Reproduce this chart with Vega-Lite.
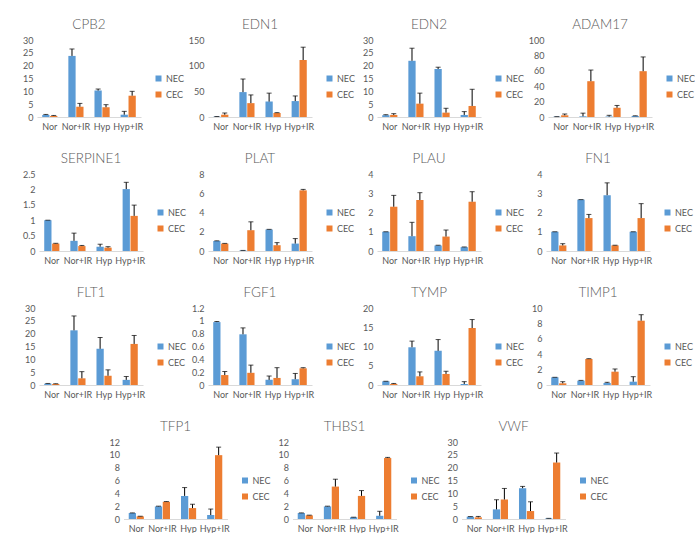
{
"$schema": "https://vega.github.io/schema/vega-lite/v6.json",
"background": "white",
"padding": {"left": 19, "top": 17, "right": 0, "bottom": 0},
"datasets": {"d": [
{"g":"CPB2","c":"Nor","s":"NEC","v":0.8,"hi":1.0},{"g":"CPB2","c":"Nor+IR","s":"NEC","v":23.8,"hi":26.5},{"g":"CPB2","c":"Hyp","s":"NEC","v":10.3,"hi":10.9},{"g":"CPB2","c":"Hyp+IR","s":"NEC","v":0.9,"hi":2.2},
{"g":"CPB2","c":"Nor","s":"CEC","v":0.4,"hi":0.6},{"g":"CPB2","c":"Nor+IR","s":"CEC","v":4.0,"hi":5.3},{"g":"CPB2","c":"Hyp","s":"CEC","v":3.8,"hi":4.8},{"g":"CPB2","c":"Hyp+IR","s":"CEC","v":8.3,"hi":10.0},
{"g":"EDN1","c":"Nor","s":"NEC","v":0.6,"hi":1.0},{"g":"EDN1","c":"Nor+IR","s":"NEC","v":48.5,"hi":74},{"g":"EDN1","c":"Hyp","s":"NEC","v":30,"hi":46.5},{"g":"EDN1","c":"Hyp+IR","s":"NEC","v":31,"hi":41},
{"g":"EDN1","c":"Nor","s":"CEC","v":4.5,"hi":7.8},{"g":"EDN1","c":"Nor+IR","s":"CEC","v":27,"hi":43},{"g":"EDN1","c":"Hyp","s":"CEC","v":7.8,"hi":8.5},{"g":"EDN1","c":"Hyp+IR","s":"CEC","v":111,"hi":136},
{"g":"EDN2","c":"Nor","s":"NEC","v":0.7,"hi":0.9},{"g":"EDN2","c":"Nor+IR","s":"NEC","v":21.9,"hi":26.8},{"g":"EDN2","c":"Hyp","s":"NEC","v":18.7,"hi":19.4},{"g":"EDN2","c":"Hyp+IR","s":"NEC","v":0.8,"hi":2.1},
{"g":"EDN2","c":"Nor","s":"CEC","v":0.8,"hi":1.3},{"g":"EDN2","c":"Nor+IR","s":"CEC","v":5.2,"hi":9.3},{"g":"EDN2","c":"Hyp","s":"CEC","v":1.7,"hi":3.4},{"g":"EDN2","c":"Hyp+IR","s":"CEC","v":4.3,"hi":10.8},
{"g":"ADAM17","c":"Nor","s":"NEC","v":0.4,"hi":0.5},{"g":"ADAM17","c":"Nor+IR","s":"NEC","v":0.9,"hi":5},{"g":"ADAM17","c":"Hyp","s":"NEC","v":0.5,"hi":2.2},{"g":"ADAM17","c":"Hyp+IR","s":"NEC","v":1.3,"hi":1.6},
{"g":"ADAM17","c":"Nor","s":"CEC","v":2.2,"hi":3.9},{"g":"ADAM17","c":"Nor+IR","s":"CEC","v":46.5,"hi":61},{"g":"ADAM17","c":"Hyp","s":"CEC","v":12,"hi":15},{"g":"ADAM17","c":"Hyp+IR","s":"CEC","v":59.5,"hi":78},
{"g":"SERPINE1","c":"Nor","s":"NEC","v":1.0,"hi":1.0},{"g":"SERPINE1","c":"Nor+IR","s":"NEC","v":0.33,"hi":0.58},{"g":"SERPINE1","c":"Hyp","s":"NEC","v":0.14,"hi":0.22},{"g":"SERPINE1","c":"Hyp+IR","s":"NEC","v":2.01,"hi":2.23},
{"g":"SERPINE1","c":"Nor","s":"CEC","v":0.24,"hi":0.25},{"g":"SERPINE1","c":"Nor+IR","s":"CEC","v":0.16,"hi":0.18},{"g":"SERPINE1","c":"Hyp","s":"CEC","v":0.11,"hi":0.14},{"g":"SERPINE1","c":"Hyp+IR","s":"CEC","v":1.14,"hi":1.49},
{"g":"PLAT","c":"Nor","s":"NEC","v":1.04,"hi":1.06},{"g":"PLAT","c":"Nor+IR","s":"NEC","v":0.05,"hi":0.06},{"g":"PLAT","c":"Hyp","s":"NEC","v":2.23,"hi":2.25},{"g":"PLAT","c":"Hyp+IR","s":"NEC","v":0.77,"hi":1.29},
{"g":"PLAT","c":"Nor","s":"CEC","v":0.77,"hi":0.79},{"g":"PLAT","c":"Nor+IR","s":"CEC","v":2.16,"hi":3.03},{"g":"PLAT","c":"Hyp","s":"CEC","v":0.6,"hi":0.87},{"g":"PLAT","c":"Hyp+IR","s":"CEC","v":6.3,"hi":6.4},
{"g":"PLAU","c":"Nor","s":"NEC","v":1.0,"hi":1.0},{"g":"PLAU","c":"Nor+IR","s":"NEC","v":0.77,"hi":1.49},{"g":"PLAU","c":"Hyp","s":"NEC","v":0.29,"hi":0.3},{"g":"PLAU","c":"Hyp+IR","s":"NEC","v":0.2,"hi":0.21},
{"g":"PLAU","c":"Nor","s":"CEC","v":2.3,"hi":2.89},{"g":"PLAU","c":"Nor+IR","s":"CEC","v":2.65,"hi":3.03},{"g":"PLAU","c":"Hyp","s":"CEC","v":0.75,"hi":1.09},{"g":"PLAU","c":"Hyp+IR","s":"CEC","v":2.56,"hi":3.08},
{"g":"FN1","c":"Nor","s":"NEC","v":1.0,"hi":1.0},{"g":"FN1","c":"Nor+IR","s":"NEC","v":2.67,"hi":2.67},{"g":"FN1","c":"Hyp","s":"NEC","v":2.9,"hi":3.54},{"g":"FN1","c":"Hyp+IR","s":"NEC","v":1.0,"hi":1.0},
{"g":"FN1","c":"Nor","s":"CEC","v":0.29,"hi":0.38},{"g":"FN1","c":"Nor+IR","s":"CEC","v":1.71,"hi":1.9},{"g":"FN1","c":"Hyp","s":"CEC","v":0.29,"hi":0.3},{"g":"FN1","c":"Hyp+IR","s":"CEC","v":1.71,"hi":2.46},
{"g":"FLT1","c":"Nor","s":"NEC","v":0.5,"hi":0.6},{"g":"FLT1","c":"Nor+IR","s":"NEC","v":21.3,"hi":26.9},{"g":"FLT1","c":"Hyp","s":"NEC","v":14.1,"hi":18.5},{"g":"FLT1","c":"Hyp+IR","s":"NEC","v":2.0,"hi":3.3},
{"g":"FLT1","c":"Nor","s":"CEC","v":0.4,"hi":0.5},{"g":"FLT1","c":"Nor+IR","s":"CEC","v":2.6,"hi":5.2},{"g":"FLT1","c":"Hyp","s":"CEC","v":3.6,"hi":5.9},{"g":"FLT1","c":"Hyp+IR","s":"CEC","v":16,"hi":19.3},
{"g":"FGF1","c":"Nor","s":"NEC","v":0.98,"hi":0.99},{"g":"FGF1","c":"Nor+IR","s":"NEC","v":0.79,"hi":0.89},{"g":"FGF1","c":"Hyp","s":"NEC","v":0.08,"hi":0.14},{"g":"FGF1","c":"Hyp+IR","s":"NEC","v":0.09,"hi":0.18},
{"g":"FGF1","c":"Nor","s":"CEC","v":0.155,"hi":0.21},{"g":"FGF1","c":"Nor+IR","s":"CEC","v":0.19,"hi":0.31},{"g":"FGF1","c":"Hyp","s":"CEC","v":0.11,"hi":0.27},{"g":"FGF1","c":"Hyp+IR","s":"CEC","v":0.26,"hi":0.27},
{"g":"TYMP","c":"Nor","s":"NEC","v":0.96,"hi":0.97},{"g":"TYMP","c":"Nor+IR","s":"NEC","v":9.8,"hi":11.4},{"g":"TYMP","c":"Hyp","s":"NEC","v":8.87,"hi":11.8},{"g":"TYMP","c":"Hyp+IR","s":"NEC","v":0.26,"hi":0.87},
{"g":"TYMP","c":"Nor","s":"CEC","v":0.26,"hi":0.4},{"g":"TYMP","c":"Nor+IR","s":"CEC","v":2.26,"hi":3.4},{"g":"TYMP","c":"Hyp","s":"CEC","v":2.87,"hi":3.57},{"g":"TYMP","c":"Hyp+IR","s":"CEC","v":14.8,"hi":17},
{"g":"TIMP1","c":"Nor","s":"NEC","v":1.0,"hi":1.0},{"g":"TIMP1","c":"Nor+IR","s":"NEC","v":0.56,"hi":0.6},{"g":"TIMP1","c":"Hyp","s":"NEC","v":0.26,"hi":0.35},{"g":"TIMP1","c":"Hyp+IR","s":"NEC","v":0.43,"hi":1.08},
{"g":"TIMP1","c":"Nor","s":"CEC","v":0.22,"hi":0.43},{"g":"TIMP1","c":"Nor+IR","s":"CEC","v":3.38,"hi":3.42},{"g":"TIMP1","c":"Hyp","s":"CEC","v":1.73,"hi":2.08},{"g":"TIMP1","c":"Hyp+IR","s":"CEC","v":8.35,"hi":9.13},
{"g":"TFP1","c":"Nor","s":"NEC","v":0.93,"hi":0.95},{"g":"TFP1","c":"Nor+IR","s":"NEC","v":1.96,"hi":2.0},{"g":"TFP1","c":"Hyp","s":"NEC","v":3.6,"hi":4.9},{"g":"TFP1","c":"Hyp+IR","s":"NEC","v":0.62,"hi":1.55},
{"g":"TFP1","c":"Nor","s":"CEC","v":0.41,"hi":0.43},{"g":"TFP1","c":"Nor+IR","s":"CEC","v":2.68,"hi":2.72},{"g":"TFP1","c":"Hyp","s":"CEC","v":1.7,"hi":2.3},{"g":"TFP1","c":"Hyp+IR","s":"CEC","v":9.95,"hi":11.2},
{"g":"THBS1","c":"Nor","s":"NEC","v":0.93,"hi":0.95},{"g":"THBS1","c":"Nor+IR","s":"NEC","v":1.96,"hi":2.0},{"g":"THBS1","c":"Hyp","s":"NEC","v":0.26,"hi":0.28},{"g":"THBS1","c":"Hyp+IR","s":"NEC","v":0.5,"hi":1.2},
{"g":"THBS1","c":"Nor","s":"CEC","v":0.57,"hi":0.6},{"g":"THBS1","c":"Nor+IR","s":"CEC","v":5.05,"hi":6.2},{"g":"THBS1","c":"Hyp","s":"CEC","v":3.6,"hi":4.43},{"g":"THBS1","c":"Hyp+IR","s":"CEC","v":9.5,"hi":9.6},
{"g":"VWF","c":"Nor","s":"NEC","v":0.9,"hi":0.95},{"g":"VWF","c":"Nor+IR","s":"NEC","v":3.75,"hi":7.5},{"g":"VWF","c":"Hyp","s":"NEC","v":12,"hi":12.7},{"g":"VWF","c":"Hyp+IR","s":"NEC","v":0.2,"hi":0.25},
{"g":"VWF","c":"Nor","s":"CEC","v":0.65,"hi":1.0},{"g":"VWF","c":"Nor+IR","s":"CEC","v":7.6,"hi":11.9},{"g":"VWF","c":"Hyp","s":"CEC","v":3.1,"hi":6.7},{"g":"VWF","c":"Hyp+IR","s":"CEC","v":22,"hi":25.7}
]},
"data": {"name": "d"},
"spacing": 20,
"center": true,
"resolve": {"scale": {"color": "independent", "y": "independent"}, "legend": {"color": "independent"}},
"vconcat": [
{"hconcat": [
{"title":"CPB2","width":104,"height":77,"transform":[{"filter":"datum.g=='CPB2'"}],
"encoding":{"x":{"field":"c","type":"nominal","sort":["Nor","Nor+IR","Hyp","Hyp+IR"],"title":null,"scale":{"paddingInner":0.42,"paddingOuter":0.2}},"xOffset":{"field":"s","type":"nominal","sort":["NEC","CEC"],"scale":{"paddingInner":0.08}}},
"layer":[
{"mark":"bar","encoding":{"y":{"field":"v","type":"quantitative","title":null,"scale":{"domain":[0,30],"nice":false},"axis":{"values":[0,5,10,15,20,25,30]}},"color":{"field":"s","type":"nominal","sort":["NEC","CEC"],"scale":{"range":["#5B9BD5","#ED7D31"]},"legend":{"title":null}}}},
{"mark":{"type":"rule","color":"#000","strokeWidth":1},"encoding":{"y":{"field":"v","type":"quantitative","title":null,"axis":{"values":[0,5,10,15,20,25,30]}},"y2":{"field":"hi"}}},
{"mark":{"type":"tick","color":"#000","thickness":1,"size":5},"encoding":{"y":{"field":"hi","type":"quantitative","title":null,"axis":{"values":[0,5,10,15,20,25,30]}}}}
]},
{"title":"EDN1","width":104,"height":77,"transform":[{"filter":"datum.g=='EDN1'"}],
"encoding":{"x":{"field":"c","type":"nominal","sort":["Nor","Nor+IR","Hyp","Hyp+IR"],"title":null,"scale":{"paddingInner":0.42,"paddingOuter":0.2}},"xOffset":{"field":"s","type":"nominal","sort":["NEC","CEC"],"scale":{"paddingInner":0.08}}},
"layer":[
{"mark":"bar","encoding":{"y":{"field":"v","type":"quantitative","title":null,"scale":{"domain":[0,150],"nice":false},"axis":{"values":[0,50,100,150]}},"color":{"field":"s","type":"nominal","sort":["NEC","CEC"],"scale":{"range":["#5B9BD5","#ED7D31"]},"legend":{"title":null}}}},
{"mark":{"type":"rule","color":"#000","strokeWidth":1},"encoding":{"y":{"field":"v","type":"quantitative","title":null,"axis":{"values":[0,50,100,150]}},"y2":{"field":"hi"}}},
{"mark":{"type":"tick","color":"#000","thickness":1,"size":5},"encoding":{"y":{"field":"hi","type":"quantitative","title":null,"axis":{"values":[0,50,100,150]}}}}
]},
{"title":"EDN2","width":104,"height":77,"transform":[{"filter":"datum.g=='EDN2'"}],
"encoding":{"x":{"field":"c","type":"nominal","sort":["Nor","Nor+IR","Hyp","Hyp+IR"],"title":null,"scale":{"paddingInner":0.42,"paddingOuter":0.2}},"xOffset":{"field":"s","type":"nominal","sort":["NEC","CEC"],"scale":{"paddingInner":0.08}}},
"layer":[
{"mark":"bar","encoding":{"y":{"field":"v","type":"quantitative","title":null,"scale":{"domain":[0,30],"nice":false},"axis":{"values":[0,5,10,15,20,25,30]}},"color":{"field":"s","type":"nominal","sort":["NEC","CEC"],"scale":{"range":["#5B9BD5","#ED7D31"]},"legend":{"title":null}}}},
{"mark":{"type":"rule","color":"#000","strokeWidth":1},"encoding":{"y":{"field":"v","type":"quantitative","title":null,"axis":{"values":[0,5,10,15,20,25,30]}},"y2":{"field":"hi"}}},
{"mark":{"type":"tick","color":"#000","thickness":1,"size":5},"encoding":{"y":{"field":"hi","type":"quantitative","title":null,"axis":{"values":[0,5,10,15,20,25,30]}}}}
]},
{"title":"ADAM17","width":104,"height":77,"transform":[{"filter":"datum.g=='ADAM17'"}],
"encoding":{"x":{"field":"c","type":"nominal","sort":["Nor","Nor+IR","Hyp","Hyp+IR"],"title":null,"scale":{"paddingInner":0.42,"paddingOuter":0.2}},"xOffset":{"field":"s","type":"nominal","sort":["NEC","CEC"],"scale":{"paddingInner":0.08}}},
"layer":[
{"mark":"bar","encoding":{"y":{"field":"v","type":"quantitative","title":null,"scale":{"domain":[0,100],"nice":false},"axis":{"values":[0,20,40,60,80,100]}},"color":{"field":"s","type":"nominal","sort":["NEC","CEC"],"scale":{"range":["#5B9BD5","#ED7D31"]},"legend":{"title":null}}}},
{"mark":{"type":"rule","color":"#000","strokeWidth":1},"encoding":{"y":{"field":"v","type":"quantitative","title":null,"axis":{"values":[0,20,40,60,80,100]}},"y2":{"field":"hi"}}},
{"mark":{"type":"tick","color":"#000","thickness":1,"size":5},"encoding":{"y":{"field":"hi","type":"quantitative","title":null,"axis":{"values":[0,20,40,60,80,100]}}}}
]}
], "spacing": 4, "resolve": {"scale": {"color": "independent", "y": "independent"}, "legend": {"color": "independent"}}},
{"hconcat": [
{"title":"SERPINE1","width":104,"height":77,"transform":[{"filter":"datum.g=='SERPINE1'"}],
"encoding":{"x":{"field":"c","type":"nominal","sort":["Nor","Nor+IR","Hyp","Hyp+IR"],"title":null,"scale":{"paddingInner":0.42,"paddingOuter":0.2}},"xOffset":{"field":"s","type":"nominal","sort":["NEC","CEC"],"scale":{"paddingInner":0.08}}},
"layer":[
{"mark":"bar","encoding":{"y":{"field":"v","type":"quantitative","title":null,"scale":{"domain":[0,2.5],"nice":false},"axis":{"values":[0,0.5,1,1.5,2,2.5]}},"color":{"field":"s","type":"nominal","sort":["NEC","CEC"],"scale":{"range":["#5B9BD5","#ED7D31"]},"legend":{"title":null}}}},
{"mark":{"type":"rule","color":"#000","strokeWidth":1},"encoding":{"y":{"field":"v","type":"quantitative","title":null,"axis":{"values":[0,0.5,1,1.5,2,2.5]}},"y2":{"field":"hi"}}},
{"mark":{"type":"tick","color":"#000","thickness":1,"size":5},"encoding":{"y":{"field":"hi","type":"quantitative","title":null,"axis":{"values":[0,0.5,1,1.5,2,2.5]}}}}
]},
{"title":"PLAT","width":104,"height":77,"transform":[{"filter":"datum.g=='PLAT'"}],
"encoding":{"x":{"field":"c","type":"nominal","sort":["Nor","Nor+IR","Hyp","Hyp+IR"],"title":null,"scale":{"paddingInner":0.42,"paddingOuter":0.2}},"xOffset":{"field":"s","type":"nominal","sort":["NEC","CEC"],"scale":{"paddingInner":0.08}}},
"layer":[
{"mark":"bar","encoding":{"y":{"field":"v","type":"quantitative","title":null,"scale":{"domain":[0,8],"nice":false},"axis":{"values":[0,2,4,6,8]}},"color":{"field":"s","type":"nominal","sort":["NEC","CEC"],"scale":{"range":["#5B9BD5","#ED7D31"]},"legend":{"title":null}}}},
{"mark":{"type":"rule","color":"#000","strokeWidth":1},"encoding":{"y":{"field":"v","type":"quantitative","title":null,"axis":{"values":[0,2,4,6,8]}},"y2":{"field":"hi"}}},
{"mark":{"type":"tick","color":"#000","thickness":1,"size":5},"encoding":{"y":{"field":"hi","type":"quantitative","title":null,"axis":{"values":[0,2,4,6,8]}}}}
]},
{"title":"PLAU","width":104,"height":77,"transform":[{"filter":"datum.g=='PLAU'"}],
"encoding":{"x":{"field":"c","type":"nominal","sort":["Nor","Nor+IR","Hyp","Hyp+IR"],"title":null,"scale":{"paddingInner":0.42,"paddingOuter":0.2}},"xOffset":{"field":"s","type":"nominal","sort":["NEC","CEC"],"scale":{"paddingInner":0.08}}},
"layer":[
{"mark":"bar","encoding":{"y":{"field":"v","type":"quantitative","title":null,"scale":{"domain":[0,4],"nice":false},"axis":{"values":[0,1,2,3,4]}},"color":{"field":"s","type":"nominal","sort":["NEC","CEC"],"scale":{"range":["#5B9BD5","#ED7D31"]},"legend":{"title":null}}}},
{"mark":{"type":"rule","color":"#000","strokeWidth":1},"encoding":{"y":{"field":"v","type":"quantitative","title":null,"axis":{"values":[0,1,2,3,4]}},"y2":{"field":"hi"}}},
{"mark":{"type":"tick","color":"#000","thickness":1,"size":5},"encoding":{"y":{"field":"hi","type":"quantitative","title":null,"axis":{"values":[0,1,2,3,4]}}}}
]},
{"title":"FN1","width":104,"height":77,"transform":[{"filter":"datum.g=='FN1'"}],
"encoding":{"x":{"field":"c","type":"nominal","sort":["Nor","Nor+IR","Hyp","Hyp+IR"],"title":null,"scale":{"paddingInner":0.42,"paddingOuter":0.2}},"xOffset":{"field":"s","type":"nominal","sort":["NEC","CEC"],"scale":{"paddingInner":0.08}}},
"layer":[
{"mark":"bar","encoding":{"y":{"field":"v","type":"quantitative","title":null,"scale":{"domain":[0,4],"nice":false},"axis":{"values":[0,1,2,3,4]}},"color":{"field":"s","type":"nominal","sort":["NEC","CEC"],"scale":{"range":["#5B9BD5","#ED7D31"]},"legend":{"title":null}}}},
{"mark":{"type":"rule","color":"#000","strokeWidth":1},"encoding":{"y":{"field":"v","type":"quantitative","title":null,"axis":{"values":[0,1,2,3,4]}},"y2":{"field":"hi"}}},
{"mark":{"type":"tick","color":"#000","thickness":1,"size":5},"encoding":{"y":{"field":"hi","type":"quantitative","title":null,"axis":{"values":[0,1,2,3,4]}}}}
]}
], "spacing": 4, "resolve": {"scale": {"color": "independent", "y": "independent"}, "legend": {"color": "independent"}}},
{"hconcat": [
{"title":"FLT1","width":104,"height":77,"transform":[{"filter":"datum.g=='FLT1'"}],
"encoding":{"x":{"field":"c","type":"nominal","sort":["Nor","Nor+IR","Hyp","Hyp+IR"],"title":null,"scale":{"paddingInner":0.42,"paddingOuter":0.2}},"xOffset":{"field":"s","type":"nominal","sort":["NEC","CEC"],"scale":{"paddingInner":0.08}}},
"layer":[
{"mark":"bar","encoding":{"y":{"field":"v","type":"quantitative","title":null,"scale":{"domain":[0,30],"nice":false},"axis":{"values":[0,5,10,15,20,25,30]}},"color":{"field":"s","type":"nominal","sort":["NEC","CEC"],"scale":{"range":["#5B9BD5","#ED7D31"]},"legend":{"title":null}}}},
{"mark":{"type":"rule","color":"#000","strokeWidth":1},"encoding":{"y":{"field":"v","type":"quantitative","title":null,"axis":{"values":[0,5,10,15,20,25,30]}},"y2":{"field":"hi"}}},
{"mark":{"type":"tick","color":"#000","thickness":1,"size":5},"encoding":{"y":{"field":"hi","type":"quantitative","title":null,"axis":{"values":[0,5,10,15,20,25,30]}}}}
]},
{"title":"FGF1","width":104,"height":77,"transform":[{"filter":"datum.g=='FGF1'"}],
"encoding":{"x":{"field":"c","type":"nominal","sort":["Nor","Nor+IR","Hyp","Hyp+IR"],"title":null,"scale":{"paddingInner":0.42,"paddingOuter":0.2}},"xOffset":{"field":"s","type":"nominal","sort":["NEC","CEC"],"scale":{"paddingInner":0.08}}},
"layer":[
{"mark":"bar","encoding":{"y":{"field":"v","type":"quantitative","title":null,"scale":{"domain":[0,1.2],"nice":false},"axis":{"values":[0,0.2,0.4,0.6,0.8,1,1.2]}},"color":{"field":"s","type":"nominal","sort":["NEC","CEC"],"scale":{"range":["#5B9BD5","#ED7D31"]},"legend":{"title":null}}}},
{"mark":{"type":"rule","color":"#000","strokeWidth":1},"encoding":{"y":{"field":"v","type":"quantitative","title":null,"axis":{"values":[0,0.2,0.4,0.6,0.8,1,1.2]}},"y2":{"field":"hi"}}},
{"mark":{"type":"tick","color":"#000","thickness":1,"size":5},"encoding":{"y":{"field":"hi","type":"quantitative","title":null,"axis":{"values":[0,0.2,0.4,0.6,0.8,1,1.2]}}}}
]},
{"title":"TYMP","width":104,"height":77,"transform":[{"filter":"datum.g=='TYMP'"}],
"encoding":{"x":{"field":"c","type":"nominal","sort":["Nor","Nor+IR","Hyp","Hyp+IR"],"title":null,"scale":{"paddingInner":0.42,"paddingOuter":0.2}},"xOffset":{"field":"s","type":"nominal","sort":["NEC","CEC"],"scale":{"paddingInner":0.08}}},
"layer":[
{"mark":"bar","encoding":{"y":{"field":"v","type":"quantitative","title":null,"scale":{"domain":[0,20],"nice":false},"axis":{"values":[0,5,10,15,20]}},"color":{"field":"s","type":"nominal","sort":["NEC","CEC"],"scale":{"range":["#5B9BD5","#ED7D31"]},"legend":{"title":null}}}},
{"mark":{"type":"rule","color":"#000","strokeWidth":1},"encoding":{"y":{"field":"v","type":"quantitative","title":null,"axis":{"values":[0,5,10,15,20]}},"y2":{"field":"hi"}}},
{"mark":{"type":"tick","color":"#000","thickness":1,"size":5},"encoding":{"y":{"field":"hi","type":"quantitative","title":null,"axis":{"values":[0,5,10,15,20]}}}}
]},
{"title":"TIMP1","width":104,"height":77,"transform":[{"filter":"datum.g=='TIMP1'"}],
"encoding":{"x":{"field":"c","type":"nominal","sort":["Nor","Nor+IR","Hyp","Hyp+IR"],"title":null,"scale":{"paddingInner":0.42,"paddingOuter":0.2}},"xOffset":{"field":"s","type":"nominal","sort":["NEC","CEC"],"scale":{"paddingInner":0.08}}},
"layer":[
{"mark":"bar","encoding":{"y":{"field":"v","type":"quantitative","title":null,"scale":{"domain":[0,10],"nice":false},"axis":{"values":[0,2,4,6,8,10]}},"color":{"field":"s","type":"nominal","sort":["NEC","CEC"],"scale":{"range":["#5B9BD5","#ED7D31"]},"legend":{"title":null}}}},
{"mark":{"type":"rule","color":"#000","strokeWidth":1},"encoding":{"y":{"field":"v","type":"quantitative","title":null,"axis":{"values":[0,2,4,6,8,10]}},"y2":{"field":"hi"}}},
{"mark":{"type":"tick","color":"#000","thickness":1,"size":5},"encoding":{"y":{"field":"hi","type":"quantitative","title":null,"axis":{"values":[0,2,4,6,8,10]}}}}
]}
], "spacing": 4, "resolve": {"scale": {"color": "independent", "y": "independent"}, "legend": {"color": "independent"}}},
{"hconcat": [
{"title":"TFP1","width":104,"height":77,"transform":[{"filter":"datum.g=='TFP1'"}],
"encoding":{"x":{"field":"c","type":"nominal","sort":["Nor","Nor+IR","Hyp","Hyp+IR"],"title":null,"scale":{"paddingInner":0.42,"paddingOuter":0.2}},"xOffset":{"field":"s","type":"nominal","sort":["NEC","CEC"],"scale":{"paddingInner":0.08}}},
"layer":[
{"mark":"bar","encoding":{"y":{"field":"v","type":"quantitative","title":null,"scale":{"domain":[0,12],"nice":false},"axis":{"values":[0,2,4,6,8,10,12]}},"color":{"field":"s","type":"nominal","sort":["NEC","CEC"],"scale":{"range":["#5B9BD5","#ED7D31"]},"legend":{"title":null}}}},
{"mark":{"type":"rule","color":"#000","strokeWidth":1},"encoding":{"y":{"field":"v","type":"quantitative","title":null,"axis":{"values":[0,2,4,6,8,10,12]}},"y2":{"field":"hi"}}},
{"mark":{"type":"tick","color":"#000","thickness":1,"size":5},"encoding":{"y":{"field":"hi","type":"quantitative","title":null,"axis":{"values":[0,2,4,6,8,10,12]}}}}
]},
{"title":"THBS1","width":104,"height":77,"transform":[{"filter":"datum.g=='THBS1'"}],
"encoding":{"x":{"field":"c","type":"nominal","sort":["Nor","Nor+IR","Hyp","Hyp+IR"],"title":null,"scale":{"paddingInner":0.42,"paddingOuter":0.2}},"xOffset":{"field":"s","type":"nominal","sort":["NEC","CEC"],"scale":{"paddingInner":0.08}}},
"layer":[
{"mark":"bar","encoding":{"y":{"field":"v","type":"quantitative","title":null,"scale":{"domain":[0,12],"nice":false},"axis":{"values":[0,2,4,6,8,10,12]}},"color":{"field":"s","type":"nominal","sort":["NEC","CEC"],"scale":{"range":["#5B9BD5","#ED7D31"]},"legend":{"title":null}}}},
{"mark":{"type":"rule","color":"#000","strokeWidth":1},"encoding":{"y":{"field":"v","type":"quantitative","title":null,"axis":{"values":[0,2,4,6,8,10,12]}},"y2":{"field":"hi"}}},
{"mark":{"type":"tick","color":"#000","thickness":1,"size":5},"encoding":{"y":{"field":"hi","type":"quantitative","title":null,"axis":{"values":[0,2,4,6,8,10,12]}}}}
]},
{"title":"VWF","width":104,"height":77,"transform":[{"filter":"datum.g=='VWF'"}],
"encoding":{"x":{"field":"c","type":"nominal","sort":["Nor","Nor+IR","Hyp","Hyp+IR"],"title":null,"scale":{"paddingInner":0.42,"paddingOuter":0.2}},"xOffset":{"field":"s","type":"nominal","sort":["NEC","CEC"],"scale":{"paddingInner":0.08}}},
"layer":[
{"mark":"bar","encoding":{"y":{"field":"v","type":"quantitative","title":null,"scale":{"domain":[0,30],"nice":false},"axis":{"values":[0,5,10,15,20,25,30]}},"color":{"field":"s","type":"nominal","sort":["NEC","CEC"],"scale":{"range":["#5B9BD5","#ED7D31"]},"legend":{"title":null}}}},
{"mark":{"type":"rule","color":"#000","strokeWidth":1},"encoding":{"y":{"field":"v","type":"quantitative","title":null,"axis":{"values":[0,5,10,15,20,25,30]}},"y2":{"field":"hi"}}},
{"mark":{"type":"tick","color":"#000","thickness":1,"size":5},"encoding":{"y":{"field":"hi","type":"quantitative","title":null,"axis":{"values":[0,5,10,15,20,25,30]}}}}
]}
], "spacing": 4, "resolve": {"scale": {"color": "independent", "y": "independent"}, "legend": {"color": "independent"}}}
],
"config": {
"view": {"stroke": null},
"font": "Lato",
"title": {"font": "Lato", "fontSize": 13.5, "fontWeight": 300, "color": "#595959", "offset": 5},
"axis": {"labelFont": "Lato", "labelFontSize": 9, "labelColor": "#595959", "ticks": false, "grid": false, "domain": false, "labelPadding": 4, "labelOverlap": false},
"axisX": {"domain": true, "domainColor": "#d9d9d9", "labelAngle": 0, "labelPadding": 5},
"axisY": {"labelExpr": "format(datum.value, '~g')", "minExtent": 18, "maxExtent": 18},
"legend": {"orient": "none", "legendX": 117, "legendY": 34, "labelFont": "Lato", "labelFontSize": 9, "labelColor": "#595959", "symbolType": "square", "symbolSize": 36, "symbolStrokeWidth": 0, "rowPadding": 6, "labelOffset": 3}
}
}
